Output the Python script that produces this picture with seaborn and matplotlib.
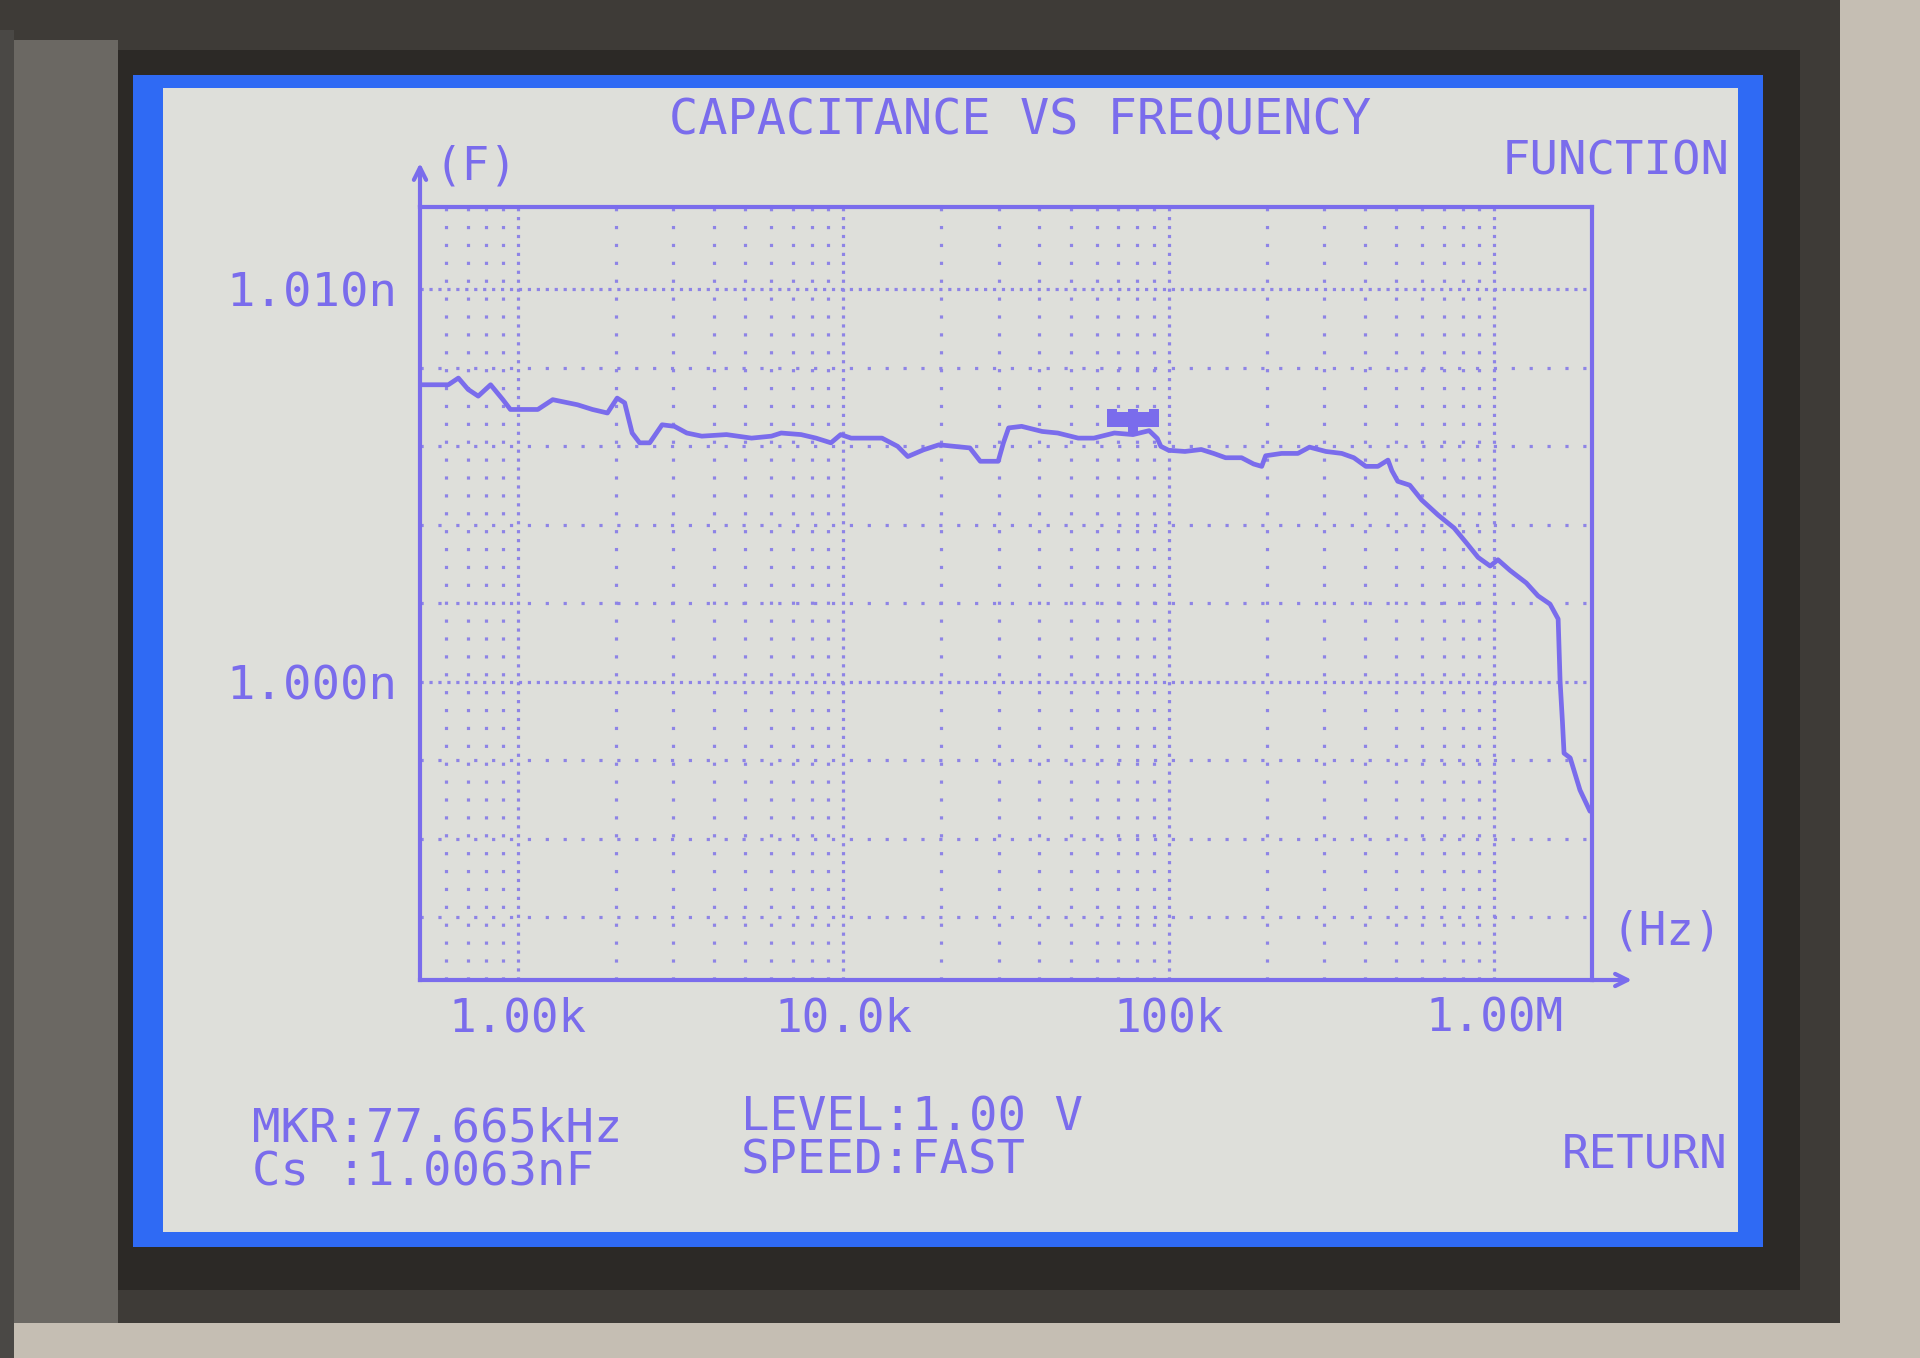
import numpy as np
import pandas as pd
import matplotlib
matplotlib.use("Agg")
import matplotlib.pyplot as plt
import seaborn as sns
from matplotlib.patches import Rectangle
from matplotlib.path import Path
from matplotlib.ticker import FixedLocator, NullFormatter

# ---------------- data ----------------
freq_hz = [500, 611, 656, 703, 755, 824, 899, 948, 1151, 1279, 1524, 1694, 1884,
           2018, 2128, 2244, 2366, 2541, 2773, 3027, 3304, 3673, 4375, 5224, 6012,
           6442, 7413, 8241, 9162, 9817, 10570, 13150, 14690, 15780, 17620, 19680,
           21930, 24490, 26360, 29920, 31050, 32210, 35320, 40830, 45600, 52720,
           58880, 68080, 77665, 87100, 92260, 94620, 100000, 112200, 125900,
           137400, 149600, 167500, 182400, 193200, 198600, 222300, 249500, 271000,
           304100, 340400, 370700, 403600, 439500, 472100, 485300, 505800, 550800,
           599800, 673000, 753400, 820400, 893300, 972800, 1028000, 1119000,
           1256000, 1365000, 1486000, 1574000, 1596000, 1622000, 1641000, 1714000,
           1837000, 1972000]
cap_pf_above_1n = [7.57, 7.57, 7.74, 7.45, 7.28, 7.57, 7.19, 6.94, 6.94, 7.19, 7.06,
                   6.94, 6.85, 7.23, 7.11, 6.34, 6.09, 6.09, 6.55, 6.51, 6.34, 6.26,
                   6.30, 6.21, 6.26, 6.34, 6.30, 6.21, 6.09, 6.30, 6.21, 6.21, 6.00,
                   5.74, 5.91, 6.04, 6.00, 5.96, 5.62, 5.62, 6.09, 6.47, 6.51, 6.38,
                   6.34, 6.21, 6.21, 6.34, 6.30, 6.40, 6.20, 6.00, 5.90, 5.87, 5.92,
                   5.82, 5.71, 5.71, 5.55, 5.49, 5.76, 5.82, 5.82, 5.98, 5.87, 5.82,
                   5.71, 5.49, 5.49, 5.65, 5.38, 5.11, 5.01, 4.63, 4.25, 3.92, 3.55,
                   3.17, 2.95, 3.11, 2.84, 2.52, 2.19, 1.98, 1.60, 0.00, -1.00, -1.82,
                   -1.94, -2.76, -3.30]
cap_nf = [1.0 + v / 1000.0 for v in cap_pf_above_1n]

marker_freq = [77665]
marker_cap = [1.0063]

x_tick_vals = [1e3, 1e4, 1e5, 1e6]
x_tick_labels = ["1.00k", "10.0k", "100k", "1.00M"]
y_tick_vals = [1.000, 1.010]
y_tick_labels = ["1.000n", "1.010n"]
y_minor_vals = [0.994, 0.996, 0.998, 1.002, 1.004, 1.006, 1.008]

title = "CAPACITANCE VS FREQUENCY"
info_left = ["MKR:77.665kHz", "Cs :1.0063nF"]
info_mid = ["LEVEL:1.00 V", "SPEED:FAST"]

# ---------------- style ----------------
PURPLE = "#7a6cec"
GRID = "#8e84e6"
SCREEN = "#dedfda"
BLUE = "#2f6af4"

sns.set_style("white")
plt.rcParams["font.family"] = ["DejaVu Sans Mono", "DejaVu Sans"]

W, H = 1920, 1358
fig = plt.figure(figsize=(W / 100, H / 100), dpi=100, facecolor="#c5beb3")


def px_rect(x0, y0, x1, y1, color, z=-10):
    fig.add_artist(Rectangle((x0 / W, 1 - y1 / H), (x1 - x0) / W, (y1 - y0) / H,
                             transform=fig.transFigure, facecolor=color,
                             edgecolor="none", zorder=z))


# instrument bezel / screen frame
px_rect(0, 0, 1840, 1323, "#3e3b37", -14)
px_rect(0, 30, 14, 1358, "#4a4845", -13.5)
px_rect(14, 40, 118, 1323, "#6b6863", -13)
px_rect(118, 50, 1800, 1290, "#2c2926", -12)
px_rect(133, 75, 1763, 1247, BLUE, -11)
px_rect(163, 88, 1738, 1232, SCREEN, -10)

ax = fig.add_axes([420 / W, 1 - 980 / H, 1172 / W, 773 / H])
ax.set_facecolor("none")

df = pd.DataFrame({"freq": freq_hz, "cap": cap_nf})
sns.lineplot(data=df, x="freq", y="cap", ax=ax, color=PURPLE, lw=3.4,
             estimator=None, sort=False, zorder=5)

# marker glyph (pixel-style flag sitting on the trace)
verts = [(-1, 0.30), (1, 0.30), (1, 1.0), (0.6, 1.0), (0.6, 0.88), (0.2, 0.88),
         (0.2, 1.0), (-0.2, 1.0), (-0.2, 0.88), (-0.6, 0.88), (-0.6, 1.0),
         (-1, 1.0), (-1, 0.30),
         (-0.18, 0.0), (0.18, 0.0), (0.18, 0.30), (-0.18, 0.30), (-0.18, 0.0)]
codes = ([Path.MOVETO] + [Path.LINETO] * 11 + [Path.CLOSEPOLY] +
         [Path.MOVETO] + [Path.LINETO] * 3 + [Path.CLOSEPOLY])
flag = Path(verts, codes)
ax.plot(marker_freq, marker_cap, linestyle="none", marker=flag, markersize=38,
        color=PURPLE, markeredgewidth=0, zorder=6)

ax.set_xscale("log")
ax.set_xlim(500, 2e6)
ax.set_ylim(0.9924, 1.0121)
ax.set_xlabel("")
ax.set_ylabel("")

ax.xaxis.set_major_locator(FixedLocator(x_tick_vals))
ax.set_xticklabels(x_tick_labels)
minor_x = [m * 10 ** e for e in range(2, 7) for m in range(2, 10)
           if 500 < m * 10 ** e < 2e6]
ax.xaxis.set_minor_locator(FixedLocator(minor_x))
ax.xaxis.set_minor_formatter(NullFormatter())
ax.yaxis.set_major_locator(FixedLocator(y_tick_vals))
ax.set_yticklabels(y_tick_labels)
ax.yaxis.set_minor_locator(FixedLocator(y_minor_vals))
ax.yaxis.set_minor_formatter(NullFormatter())

ax.tick_params(which="both", length=0)
ax.tick_params(axis="x", which="major", pad=12, labelsize=33, labelcolor=PURPLE)
ax.tick_params(axis="y", which="major", pad=16, labelsize=34, labelcolor=PURPLE)

dense = (0, (1, 1.8))
sparse = (0, (1, 4.6))
ax.grid(which="major", axis="both", linestyle=dense, linewidth=2.3, color=GRID)
ax.grid(which="minor", axis="both", linestyle=sparse, linewidth=2.3, color=GRID)
ax.set_axisbelow(True)

for s in ax.spines.values():
    s.set_visible(True)
    s.set_color(PURPLE)
    s.set_linewidth(3)

# axis arrows
ax.annotate("", xy=(0, 1 + 44 / 773), xytext=(0, 1), xycoords="axes fraction",
            textcoords="axes fraction", annotation_clip=False,
            arrowprops=dict(arrowstyle="->", color=PURPLE, lw=3, mutation_scale=22,
                            shrinkA=0, shrinkB=0))
ax.annotate("", xy=(1 + 40 / 1172, 0), xytext=(1, 0), xycoords="axes fraction",
            textcoords="axes fraction", annotation_clip=False,
            arrowprops=dict(arrowstyle="->", color=PURPLE, lw=3, mutation_scale=22,
                            shrinkA=0, shrinkB=0))
ax.text(0.012, 1.052, "(F)", transform=ax.transAxes, ha="left", va="center",
        fontsize=33, color=PURPLE)
ax.text(1.017, 0.062, "(Hz)", transform=ax.transAxes, ha="left", va="center",
        fontsize=33, color=PURPLE)

# screen texts
fig.text(0.531, 0.912, title, ha="center", va="center", fontsize=35, color=PURPLE)
fig.text(0.901, 0.881, "FUNCTION", ha="right", va="center", fontsize=34, color=PURPLE)
fig.text(0.8995, 0.1495, "RETURN", ha="right", va="center", fontsize=33, color=PURPLE)
fig.text(0.131, 0.1686, info_left[0], ha="left", va="center", fontsize=34, color=PURPLE)
fig.text(0.131, 0.1362, info_left[1], ha="left", va="center", fontsize=34, color=PURPLE)
fig.text(0.386, 0.1767, info_mid[0], ha="left", va="center", fontsize=34, color=PURPLE)
fig.text(0.386, 0.1450, info_mid[1], ha="left", va="center", fontsize=34, color=PURPLE)

fig.savefig("out.png", dpi=100, facecolor=fig.get_facecolor())
